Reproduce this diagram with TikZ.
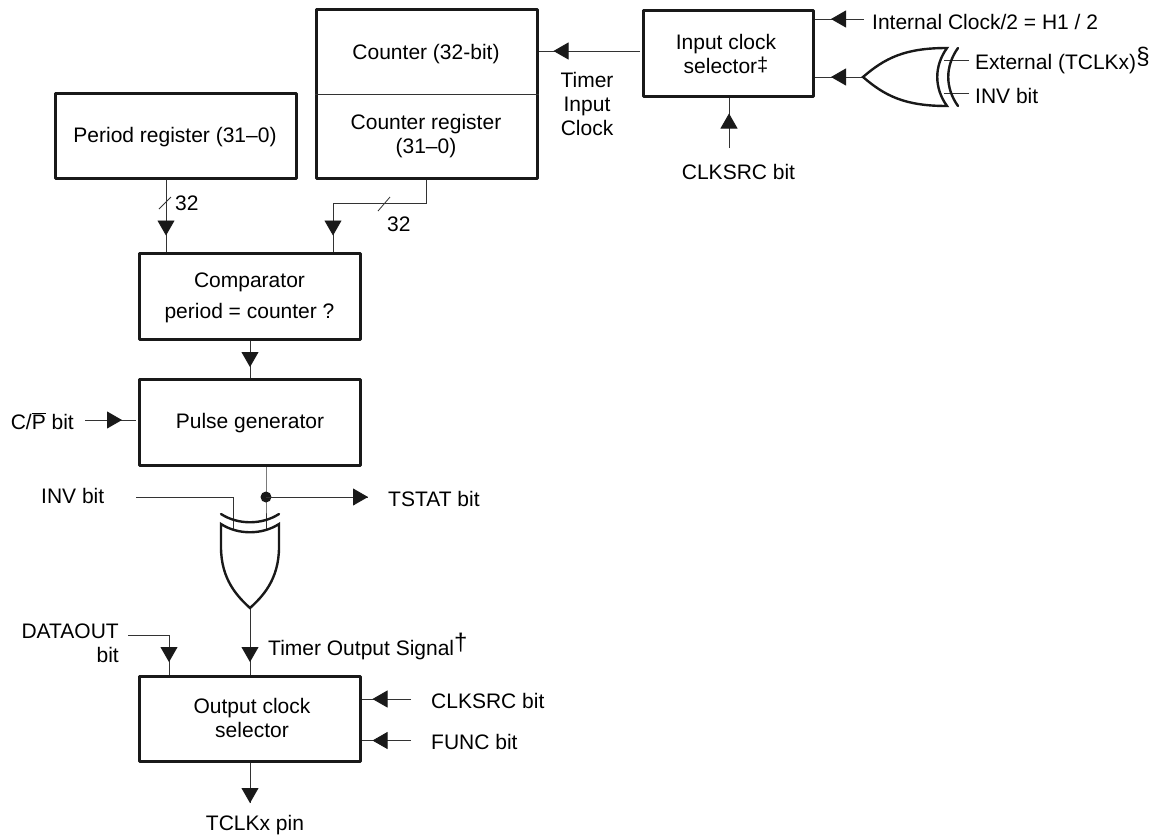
\documentclass[tikz,border=0pt]{standalone}
\usepackage{fontspec}
\setmainfont{Liberation Sans}
\usetikzlibrary{arrows.meta,decorations.markings,calc}
\tikzset{
  blk/.style={draw=black!90,line width=3pt,line join=round,inner sep=0pt,align=center,font=\lbl},
  txt/.style={inner sep=0pt,align=center,font=\lbl},
  wire/.style={draw=black!80,line width=0.8pt},
  gate/.style={draw=black!90,line width=2.4pt,line join=miter},
  flow/.style={wire,decoration={markings,mark=at position #1 with {\arrow[black!90]{Triangle[length=15pt,width=17pt]}}},postaction={decorate}},
}
\newcommand{\lbl}{\fontsize{21}{24}\selectfont}
\newcommand{\supmark}[1]{\smash{\raisebox{5pt}{\fontsize{24}{24}\selectfont #1}}}
\newcommand{\lowmark}[1]{\smash{\raisebox{2pt}{\fontsize{20}{20}\selectfont #1}}}
\begin{document}
\begin{tikzpicture}[x=1pt,y=-1pt]
\useasboundingbox (0,0) rectangle (1164,839);
% boxes
\node[blk,minimum width=241pt,minimum height=85pt] (period) at (175.5,135.5) {};
\node[txt] (periodt) at (175,137.5) {Period register (31--0)};
\node[blk,minimum width=221pt,minimum height=169pt] (counter) at (426.5,94) {};
\node[txt] (countertop) at (426,54) {Counter (32-bit)};
\node[txt] (counterreg) at (426,136) {Counter register\\(31--0)};
\node[blk,minimum width=170pt,minimum height=86pt] (insel) at (728.5,53) {};
\node[txt] (inselt) at (726,54) {Input clock\\selector\lowmark{‡}};
\node[blk,minimum width=221pt,minimum height=86pt] (comp) at (249.5,296) {};
\node[txt] (compt) at (249.5,298) {Comparator\\[7pt]period = counter ?};
\node[blk,minimum width=221pt,minimum height=86pt] (pulse) at (249.5,422.5) {};
\node[txt] (pulset) at (250,423) {Pulse generator};
\node[blk,minimum width=221pt,minimum height=85pt] (outsel) at (249.5,719) {};
\node[txt] (outselt) at (252,718) {Output clock\\selector};
% divider
\draw[wire,line width=0.7pt] (counter.west |- 0,94) -- (counter.east |- 0,94);
% labels
\node[txt] (tic) at (587,104) {Timer\\Input\\Clock};
\node[txt,anchor=west] (intl) at (872,22) {Internal Clock/2 = H1 / 2};
\node[txt,anchor=west] (extl) at (975,64) {External (TCLKx)\supmark{§}};
\node[txt,anchor=west] (invl) at (975,96) {INV bit};
\node[txt] (csrc) at (738.5,172) {CLKSRC bit};
\node[txt,anchor=west] (n32a) at (175,203) {32};
\node[txt,anchor=west] (n32b) at (387,224) {32};
\node[txt,anchor=east] (cp) at (74,421) {C/$\overline{\mbox{P}}$ bit};
\node[txt,anchor=west] (inv2) at (41,496) {INV bit};
\node[txt,anchor=west] (tstat) at (388,499) {TSTAT bit};
\node[txt,anchor=east,align=right] (dataout) at (119,643.5) {DATAOUT\\bit};
\node[txt,anchor=west] (tos) at (268,650) {Timer Output Signal\supmark{†}};
\node[txt,anchor=west] (csrc2) at (431,701) {CLKSRC bit};
\node[txt,anchor=west] (func) at (431,742) {FUNC bit};
\node[txt] (pin) at (255,825) {TCLKx pin};
% named points
\coordinate (intin) at (864,19);
\coordinate (xorout) at (863,77);
\coordinate (csrcin) at (729,148);
\coordinate (exin) at (969,60);
\coordinate (exend) at (944,60);
\coordinate (invin) at (969,93.5);
\coordinate (invend) at (944,93.5);
\coordinate (cpin) at (85,420);
\coordinate (cpend) at (136,420);
\coordinate (dot) at (266,497);
\coordinate (tsend) at (368,497);
\coordinate (invstart) at (136,497.7);
\coordinate (invcorner) at (233,497.7);
\coordinate (invgate) at (233,530);
\coordinate (pulsegate) at (266,530);
\coordinate (gatetip) at (250,608);
\coordinate (dstart) at (128,635);
\coordinate (dcorner) at (169,635);
\coordinate (c2in) at (411,699);
\coordinate (fin) at (411,740.5);
\coordinate (pinend) at (250,803);
\coordinate (pb1) at (333,203);
\coordinate (pb2) at (426,203);
\coordinate (cntfrom) at (640,51);
% connectors
\draw[flow=-16pt] (intin) -- (intin -| insel.east);
\draw[flow=-16pt] (xorout) -- (xorout -| insel.east);
\draw[flow=-16pt] (csrcin) -- (csrcin |- insel.south);
\draw[flow=-15pt] (cntfrom) -- (cntfrom -| counter.east);
\draw[wire] (exin) -- (exend);
\draw[wire] (invin) -- (invend);
\draw[flow=-16pt] (period.south -| 166,0) -- (comp.north -| 166,0);
\draw[flow=-16pt] (counter.south -| pb2) -- (pb2) -- (pb1) -- (comp.north -| pb1);
\draw[wire] (378,211) -- (390,197);
\draw[wire] (159,209) -- (171,197);
\draw[flow=-11pt] (comp.south -| 250,0) -- (pulse.north -| 250,0);
\draw[flow=37pt] (cpin) -- (cpend);
\draw[wire] (pulse.south -| dot) -- (dot) -- (pulsegate);
\fill[black!90] (dot) circle (5.5pt);
\draw[flow=1] (dot) -- (tsend);
\draw[wire] (invstart) -- (invcorner) -- (invgate);
\draw[flow=-13pt] (gatetip) -- (outsel.north -| gatetip);
\draw[flow=-13pt] (dstart) -- (dcorner) -- (dcorner |- outsel.north);
\draw[flow=-11pt] (c2in) -- (c2in -| outsel.east);
\draw[flow=-11pt] (fin) -- (fin -| outsel.east);
\draw[flow=1] (outsel.south -| pinend) -- (pinend);
% XOR gates
\draw[gate] (xorout) .. controls (885,58) and (905,48) .. (947,48)
  .. controls (934,66) and (934,88) .. (947,106)
  .. controls (905,106) and (885,96) .. (xorout) -- cycle;
\draw[gate,line cap=round] (958,48) .. controls (945,66) and (945,88) .. (958,106);
\draw[gate] (gatetip) .. controls (238,597) and (221,580) .. (221,547) -- (221,524)
  .. controls (238,535) and (262,535) .. (279,524) -- (279,547)
  .. controls (279,580) and (262,597) .. (gatetip) -- cycle;
\draw[gate,line cap=round] (221,514) .. controls (238,525) and (262,525) .. (279,514);
\end{tikzpicture}
\end{document}
